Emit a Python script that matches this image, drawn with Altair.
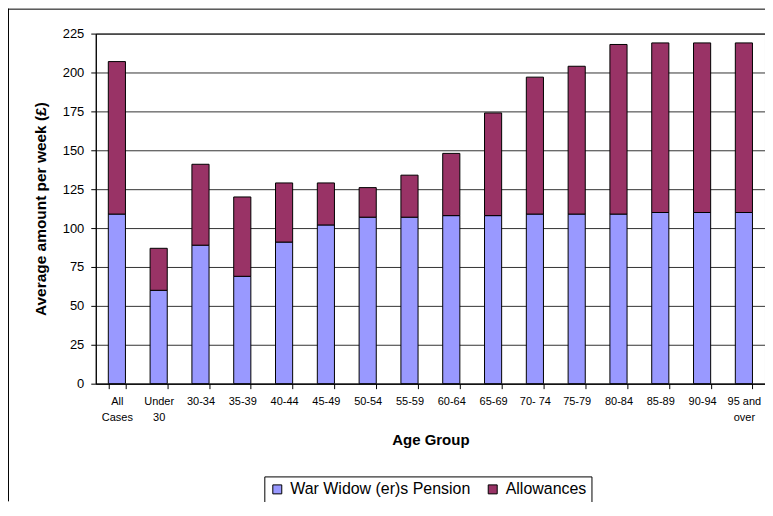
import altair as alt
import pandas as pd

# ---- data ----
categories = ["All Cases", "Under 30", "30-34", "35-39", "40-44", "45-49", "50-54",
              "55-59", "60-64", "65-69", "70- 74", "75-79", "80-84", "85-89",
              "90-94", "95 and over"]
tick_label_lines = [["All", "Cases"], ["Under", "30"], ["30-34"], ["35-39"], ["40-44"],
                    ["45-49"], ["50-54"], ["55-59"], ["60-64"], ["65-69"], ["70- 74"],
                    ["75-79"], ["80-84"], ["85-89"], ["90-94"], ["95 and", "over"]]
pension = [109, 60, 89, 69, 91, 102, 107, 107, 108, 108, 109, 109, 109, 110, 110, 110]
allowances = [98, 27, 52, 51, 38, 27, 19, 27, 40, 66, 88, 95, 109, 109, 109, 109]
series_names = ["War Widow (er)s Pension", "Allowances"]
series_colors = ["#9999FF", "#993366"]
y_ticks = [0, 25, 50, 75, 100, 125, 150, 175, 200, 225]

rows = []
for i, c in enumerate(categories):
    rows.append({"age": c, "series": series_names[0], "value": pension[i], "ord": 0})
    rows.append({"age": c, "series": series_names[1], "value": allowances[i], "ord": 1})
df = pd.DataFrame(rows)

# label expression for wrapped x tick labels
expr = "datum.label"
for c, lines in zip(categories, tick_label_lines):
    if len(lines) > 1:
        arr = "[" + ",".join("'" + s + "'" for s in lines) + "]"
        expr = f"(datum.value == '{c}' ? {arr} : {expr})"

FONT = "Liberation Sans"
W, H = 671, 351

bars = alt.Chart(df).mark_bar(stroke="black", strokeWidth=1).encode(
    x=alt.X("age:N", sort=categories,
            scale=alt.Scale(paddingInner=0.59, paddingOuter=0.3),
            axis=alt.Axis(title="Age Group", labelAngle=0, labelExpr=expr,
                          tickBand="extent", tickSize=5, labelPadding=7,
                          labelFontSize=11, labelLineHeight=16, labelBaseline="top",
                          titleFontSize=15, titleFontWeight="bold", titlePadding=10)),
    y=alt.Y("value:Q", stack="zero",
            scale=alt.Scale(domain=[0, 225], nice=False),
            axis=alt.Axis(title="Average amount per week (£)", values=y_ticks,
                          grid=True, gridColor="#333333", gridWidth=1,
                          tickSize=5, labelPadding=7, labelFontSize=13,
                          titleFontSize=15.5, titleFontWeight="bold", titlePadding=14)),
    color=alt.Color("series:N",
                    scale=alt.Scale(domain=series_names, range=series_colors),
                    legend=alt.Legend(title=None, orient="none", legendX=169, legendY=444,
                                      direction="horizontal")),
    order=alt.Order("ord:Q"),
)

one = pd.DataFrame({"k": [0]})
border_left = alt.Chart(one).mark_rule(color="black", strokeWidth=1).encode(
    x=alt.value(-87.5), y=alt.value(-25), y2=alt.value(H + 118))
border_top = alt.Chart(one).mark_rule(color="black", strokeWidth=1).encode(
    x=alt.value(-88), x2=alt.value(W + 10), y=alt.value(-24.5))

chart = alt.layer(border_left, border_top, bars).properties(
    width=W, height=H,
    autosize=alt.AutoSizeParams(type="none"),
    padding={"left": 88, "top": 25, "right": 0, "bottom": 118},
    background="white",
).configure_view(
    stroke="black", strokeWidth=1
).configure_axis(
    labelFont=FONT, titleFont=FONT, labelColor="black", titleColor="black",
    domainColor="black", tickColor="black", domainWidth=1, tickWidth=1,
).configure_legend(
    labelFont=FONT, labelFontSize=16, labelColor="black", labelLimit=400,
    strokeColor="black", strokeWidth=1, fillColor="white", padding=5,
    symbolType="square", symbolSize=81, symbolStrokeColor="black",
    symbolStrokeWidth=1, columnPadding=14, labelOffset=5,
)

chart.save("out.html", embed_options={"renderer": "svg", "actions": False})
